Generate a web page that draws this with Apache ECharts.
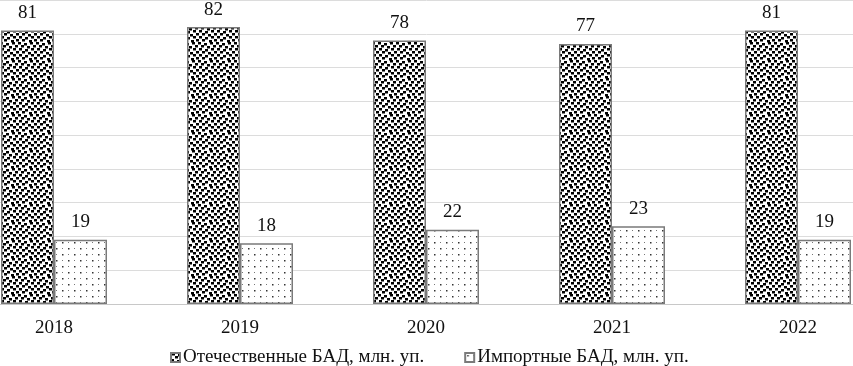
<!DOCTYPE html>
<html><head><meta charset="utf-8">
<script src="https://cdn.jsdelivr.net/npm/echarts@6/dist/echarts.min.js"></script>
<style>html,body{margin:0;padding:0;background:#fff}#c{width:853px;height:366px}</style>
</head><body><div id="c"></div>
<script>
const categories = ['2018','2019','2020','2021','2022'];
const domestic = [81, 82, 78, 77, 81];
const imported = [19, 18, 22, 23, 19];
const seriesNames = ['Отечественные БАД, млн. уп.', 'Импортные БАД, млн. уп.'];

function densePattern(){
  const c = document.createElement('canvas'); c.width = 18; c.height = 18;
  const g = c.getContext('2d'); g.fillStyle = '#fff'; g.fillRect(0,0,18,18);
  g.fillStyle = '#000';
  const pts = [[1,0],[7,1],[13,0],[4,3],[11,4],[16,3],[0,6],[6,7],[12,6],[3,9],[9,10],[15,9],[1,12],[7,13],[13,12],[4,15],[10,16],[16,15]];
  pts.forEach(p => { g.fillRect(p[0], p[1], 3, 2.5); if (p[0] > 15) g.fillRect(p[0]-18, p[1], 3, 2.5); if (p[1] > 15) g.fillRect(p[0], p[1]-18, 3, 2.5); });
  return c;
}
function sparsePattern(){
  const c = document.createElement('canvas'); c.width = 12; c.height = 12;
  const g = c.getContext('2d'); g.fillStyle = '#fff'; g.fillRect(0,0,12,12);
  g.fillStyle = '#333';
  g.fillRect(2,2,1.5,1.5); g.fillRect(8,8,1.5,1.5);
  g.fillStyle = '#777';
  g.fillRect(8,2,1,1); g.fillRect(2,8,1,1);
  return c;
}
const pA = {image: densePattern(), repeat: 'repeat'};
const pB = {image: sparsePattern(), repeat: 'repeat'};

const chart = echarts.init(document.getElementById('c'));
const font = '"Liberation Serif", "Times New Roman", serif';
chart.setOption({
  animation: false,
  textStyle: {fontFamily: font},
  grid: {left: -39, width: 930, top: 0, height: 304, containLabel: false, outerBoundsMode: 'none'},
  legend: {
    data: seriesNames, top: 343, left: 165, itemGap: 40,
    itemWidth: 9, itemHeight: 9, icon: 'rect',
    textStyle: {fontFamily: font, fontSize: 19, color: '#111', padding: [0,0,0,-2]}
  },
  xAxis: {
    type: 'category', data: categories,
    axisLine: {lineStyle: {color: '#c8c8c8', width: 1}},
    axisTick: {show: false},
    axisLabel: {fontFamily: font, fontSize: 19, color: '#111', margin: 15}
  },
  yAxis: {
    type: 'value', min: 0, max: 90, interval: 10,
    axisLabel: {show: false}, axisLine: {show: false}, axisTick: {show: false},
    splitLine: {lineStyle: {color: '#dcdcdc', width: 1}}
  },
  series: [
    {name: seriesNames[0], type: 'bar', data: domestic, barWidth: 53, barGap: '0%',
     itemStyle: {color: pA, borderColor: '#7a7a7a', borderWidth: 1.5},
     label: {show: true, position: 'top', distance: 8, fontFamily: font, fontSize: 19, color: '#111'}},
    {name: seriesNames[1], type: 'bar', data: imported, barWidth: 53,
     itemStyle: {color: pB, borderColor: '#7a7a7a', borderWidth: 1.5},
     label: {show: true, position: 'top', distance: 8, fontFamily: font, fontSize: 19, color: '#111'}}
  ]
});
</script></body></html>
